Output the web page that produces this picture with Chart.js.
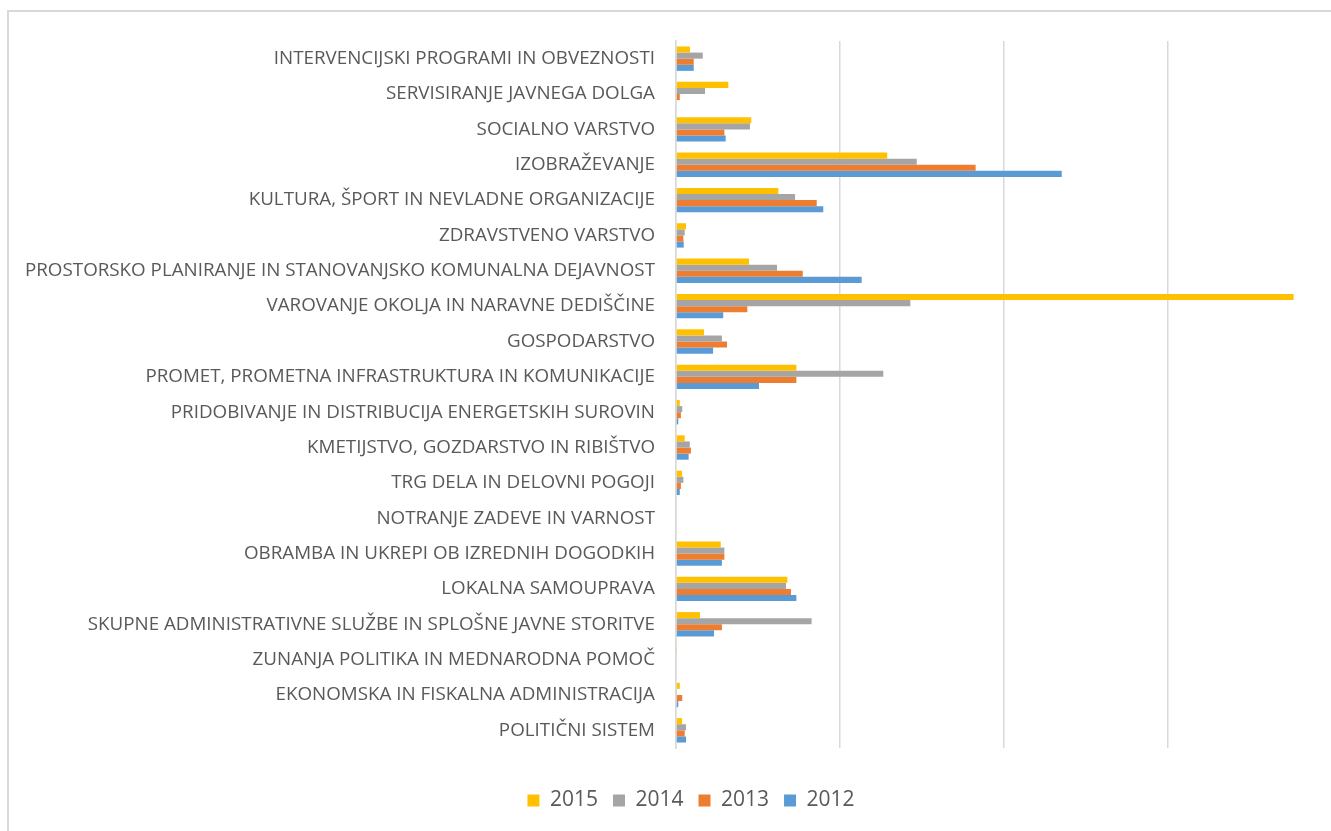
<!DOCTYPE html>
<html>
<head>
<meta charset="utf-8">
<script src="https://cdn.jsdelivr.net/npm/chart.js@4.4.1/dist/chart.umd.min.js"></script>
<style>
  html, body { margin: 0; padding: 0; background: #fff; overflow: hidden; }
  #frame { position: absolute; left: 7px; top: 10px; width: 1400px; height: 900px; border: 2px solid #d9d9d9; }
  #wrap { position: absolute; left: 0; top: 0; width: 1345px; height: 831px; }
</style>
</head>
<body>
<div id="frame"></div>
<div id="wrap"><canvas id="budgetChart"></canvas></div>
<script>
// categories, top to bottom
var categories = [
    'INTERVENCIJSKI PROGRAMI IN OBVEZNOSTI',
    'SERVISIRANJE JAVNEGA DOLGA',
    'SOCIALNO VARSTVO',
    'IZOBRAŽEVANJE',
    'KULTURA, ŠPORT IN NEVLADNE ORGANIZACIJE',
    'ZDRAVSTVENO VARSTVO',
    'PROSTORSKO PLANIRANJE IN STANOVANJSKO KOMUNALNA DEJAVNOST',
    'VAROVANJE OKOLJA IN NARAVNE DEDIŠČINE',
    'GOSPODARSTVO',
    'PROMET, PROMETNA INFRASTRUKTURA IN KOMUNIKACIJE',
    'PRIDOBIVANJE IN DISTRIBUCIJA ENERGETSKIH SUROVIN',
    'KMETIJSTVO, GOZDARSTVO IN RIBIŠTVO',
    'TRG DELA IN DELOVNI POGOJI',
    'NOTRANJE ZADEVE IN VARNOST',
    'OBRAMBA IN UKREPI OB IZREDNIH DOGODKIH',
    'LOKALNA SAMOUPRAVA',
    'SKUPNE ADMINISTRATIVNE SLUŽBE IN SPLOŠNE JAVNE STORITVE',
    'ZUNANJA POLITIKA IN MEDNARODNA POMOČ',
    'EKONOMSKA IN FISKALNA ADMINISTRACIJA',
    'POLITIČNI SISTEM'
];

var values2015 = [85, 319, 459, 1288, 624, 61, 445, 3766, 171, 734, 23, 53, 37, 0, 273, 679, 146, 6, 23, 37];
var values2014 = [163, 177, 451, 1468, 726, 53, 616, 1429, 280, 1264, 38, 84, 45, 0, 295, 671, 827, 0, 6, 61];
var values2013 = [108, 23, 295, 1827, 858, 45, 773, 435, 311, 734, 30, 91, 30, 0, 295, 701, 280, 0, 38, 53];
var values2012 = [108, 0, 303, 2352, 898, 47, 1132, 288, 226, 506, 14, 77, 23, 0, 280, 734, 232, 0, 14, 61];

var seriesLabels = ['2015', '2014', '2013', '2012'];
var seriesColors = ['#FFC000', '#A5A5A5', '#ED7D31', '#5B9BD5'];

var axisMax = 4000;
var axisStep = 1000;

document.addEventListener('DOMContentLoaded', function () {
    var allValues = [values2015, values2014, values2013, values2012];
    var datasets = allValues.map(function (vals, i) {
        return {
            label: seriesLabels[i],
            data: vals,
            backgroundColor: seriesColors[i],
            borderWidth: 0,
            categoryPercentage: 0.69,
            barPercentage: 1.0
        };
    });

    var ctx = document.getElementById('budgetChart').getContext('2d');
    var budgetChart = new Chart(ctx, {
        type: 'bar',
        data: {
            labels: categories,
            datasets: datasets
        },
        options: {
            indexAxis: 'y',
            responsive: true,
            maintainAspectRatio: false,
            animation: false,
            layout: {
                padding: { top: 41, right: 13, bottom: 10, left: 50 }
            },
            scales: {
                x: {
                    min: 0,
                    max: axisMax,
                    ticks: { display: false, stepSize: axisStep },
                    border: { display: false },
                    grid: {
                        color: '#d9d9d9',
                        lineWidth: 1.5,
                        drawTicks: true,
                        tickLength: 27,
                        tickColor: 'rgba(0,0,0,0)'
                    }
                },
                y: {
                    afterFit: function (scale) {
                        scale.width = 626;
                        // long labels may run past the scale box, don't clip them
                        scale._computeLabelArea = function () { return null; };
                    },
                    border: { display: true, color: '#d9d9d9', width: 1.5 },
                    grid: { display: false, drawTicks: false },
                    ticks: {
                        color: '#595959',
                        padding: 21,
                        autoSkip: false,
                        font: { family: 'Open Sans', size: 18.8 }
                    }
                }
            },
            plugins: {
                legend: {
                    position: 'bottom',
                    labels: {
                        color: '#595959',
                        boxWidth: 12,
                        boxHeight: 12,
                        padding: 15,
                        font: { family: 'Open Sans', size: 21 }
                    }
                },
                tooltip: { enabled: false }
            }
        }
    });
});
</script>
</body>
</html>
